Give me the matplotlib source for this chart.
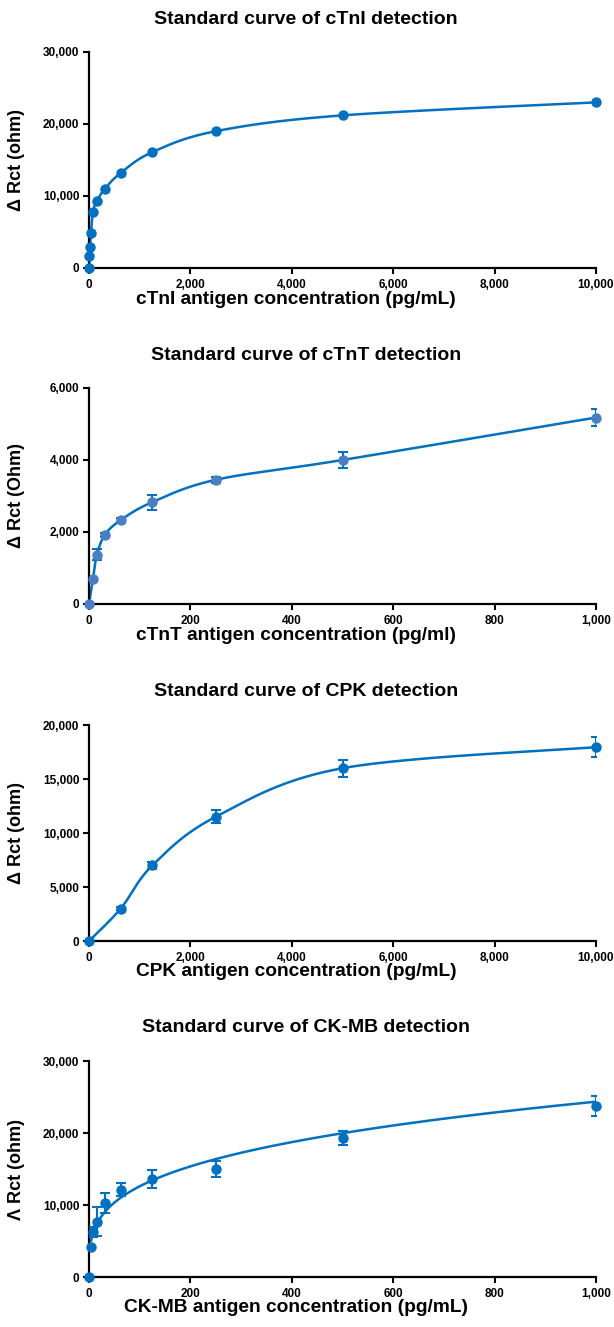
import numpy as np
import matplotlib
matplotlib.use("Agg")
import matplotlib.pyplot as plt
from matplotlib.ticker import FuncFormatter

# ---------------- data ----------------
ctni_x = [0, 9.77, 19.5, 39, 78, 156, 312, 625, 1250, 2500, 5000, 10000]
ctni_y = [0, 1700, 2900, 4900, 7800, 9300, 11000, 13200, 16100, 19000, 21200, 23000]

ctnt_x = [0, 7.8, 15.6, 31.25, 62.5, 125, 250, 500, 1000]
ctnt_y = [0, 690, 1370, 1920, 2330, 2830, 3450, 4000, 5180]
ctnt_err = [0, 40, 150, 50, 60, 210, 80, 230, 230]

cpk_x = [0, 625, 1250, 2500, 5000, 10000]
cpk_y = [0, 3000, 7000, 11500, 16000, 17950]
cpk_err = [0, 150, 300, 600, 800, 920]

ckmb_x = [0, 3.9, 7.8, 15.6, 31.25, 62.5, 125, 250, 500, 1000]
ckmb_y = [0, 4200, 6300, 7700, 10300, 12100, 13600, 15000, 19300, 23800]
ckmb_err = [0, 0, 700, 2000, 1400, 900, 1200, 1150, 1000, 1400]

titles = ["Standard curve of cTnI detection", "Standard curve of cTnT detection",
          "Standard curve of CPK detection", "Standard curve of CK-MB detection"]
xlabels = ["cTnI antigen concentration (pg/mL)", "cTnT antigen concentration (pg/ml)",
           "CPK antigen concentration (pg/mL)", "CK-MB antigen concentration (pg/mL)"]
ylabels = ["\u0394 Rct (ohm)", "\u0394 Rct (Ohm)", "\u0394 Rct (ohm)", "\u039b Rct (ohm)"]
xmaxs = [10000, 1000, 10000, 1000]
ymaxs = [30000, 6000, 20000, 30000]
xsteps = [2000, 200, 2000, 200]
ysteps = [10000, 2000, 5000, 10000]

W, H = 614, 1327
BLUE = "#0070C0"
LIGHT = "#4A7EC4"
FONT = "Liberation Sans"
TICKFONT = "Liberation Sans"


def excel_smooth(x, y, sx, sy, n=40):
    """Bezier smoothing (Excel-like) computed in display-scaled units."""
    P = np.column_stack([np.asarray(x, float) * sx, np.asarray(y, float) * sy])
    m = len(P)
    out = []
    for i in range(m - 1):
        p0 = P[i - 1] if i > 0 else P[i]
        p1, p2 = P[i], P[i + 1]
        p3 = P[i + 2] if i + 2 < m else P[i + 1]
        c1 = p1 + (p2 - p0) / 6.0
        c2 = p2 - (p3 - p1) / 6.0
        t = np.linspace(0, 1, n)[:, None]
        seg = ((1 - t) ** 3) * p1 + 3 * ((1 - t) ** 2) * t * c1 + 3 * (1 - t) * t ** 2 * c2 + t ** 3 * p2
        out.append(seg if i == 0 else seg[1:])
    out = np.vstack(out)
    return out[:, 0] / sx, out[:, 1] / sy


fig = plt.figure(figsize=(W / 100, H / 100), dpi=100)

axes_px = [(52, 268), (388, 604), (725, 941), (1061, 1277)]
left_px, right_px = 89, 596
title_y = [20, 356, 692, 1028]

fmt = FuncFormatter(lambda v, p: f"{int(round(v)):,}")

datasets = [
    (ctni_x, ctni_y, None, BLUE),
    (ctnt_x, ctnt_y, ctnt_err, LIGHT),
    (cpk_x, cpk_y, cpk_err, BLUE),
    (ckmb_x, ckmb_y, ckmb_err, BLUE),
]

for k in range(4):
    top, bot = axes_px[k]
    ax = fig.add_axes([left_px / W, 1 - bot / H, (right_px - left_px) / W, (bot - top) / H])
    xs, ys, err, mcol = datasets[k]
    xmax, ymax = xmaxs[k], ymaxs[k]
    sx = (right_px - left_px) / xmax
    sy = (bot - top) / ymax

    if k < 3:
        cx, cy = excel_smooth(xs, ys, sx, sy)
    else:
        xa = np.array(xs, float)
        ya = np.array(ys, float)
        mask = xa > 0
        b, lna = np.polyfit(np.log(xa[mask]), np.log(ya[mask]), 1)
        cx = np.linspace(xa[mask].min(), xmax, 400)
        cy = np.exp(lna) * cx ** b
    ax.plot(cx, cy, color=BLUE, lw=1.8, zorder=2, solid_capstyle="round")

    if err is not None:
        ax.errorbar(xs, ys, yerr=err, fmt="none", ecolor=BLUE, elinewidth=1.5,
                    capsize=3.5, capthick=1.5, zorder=3)
    ax.plot(xs, ys, "o", color=mcol, ms=6.5, mec=mcol, zorder=4, clip_on=False)

    ax.set_xlim(0, xmax)
    ax.set_ylim(0, ymax)
    ax.set_xticks(np.arange(0, xmax + 1, xsteps[k]))
    ax.set_yticks(np.arange(0, ymax + 1, ysteps[k]))
    ax.xaxis.set_major_formatter(fmt)
    ax.yaxis.set_major_formatter(fmt)
    for s in ["top", "right"]:
        ax.spines[s].set_visible(False)
    for s in ["left", "bottom"]:
        ax.spines[s].set_linewidth(1.6)
        ax.spines[s].set_color("black")
    ax.tick_params(axis="both", direction="out", length=4, width=1.5, labelsize=8.5)
    ax.tick_params(axis="x", pad=4)
    ax.tick_params(axis="y", pad=3)
    for lab in ax.get_xticklabels() + ax.get_yticklabels():
        lab.set_fontweight("bold")
        lab.set_fontfamily(TICKFONT)

    fig.text(306 / W, 1 - title_y[k] / H, titles[k], ha="center", va="center",
             fontsize=14, fontweight="bold", family=FONT)
    fig.text(296 / W, 1 - (bot + 31) / H, xlabels[k], ha="center", va="center",
             fontsize=13.8, fontweight="bold", family=FONT)
    fig.text(17 / W, 1 - ((top + bot) / 2) / H, ylabels[k], ha="center", va="center",
             rotation=90, fontsize=13, fontweight="bold", family=[FONT, "DejaVu Sans"])

fig.savefig("out.png", dpi=100, facecolor="white")
